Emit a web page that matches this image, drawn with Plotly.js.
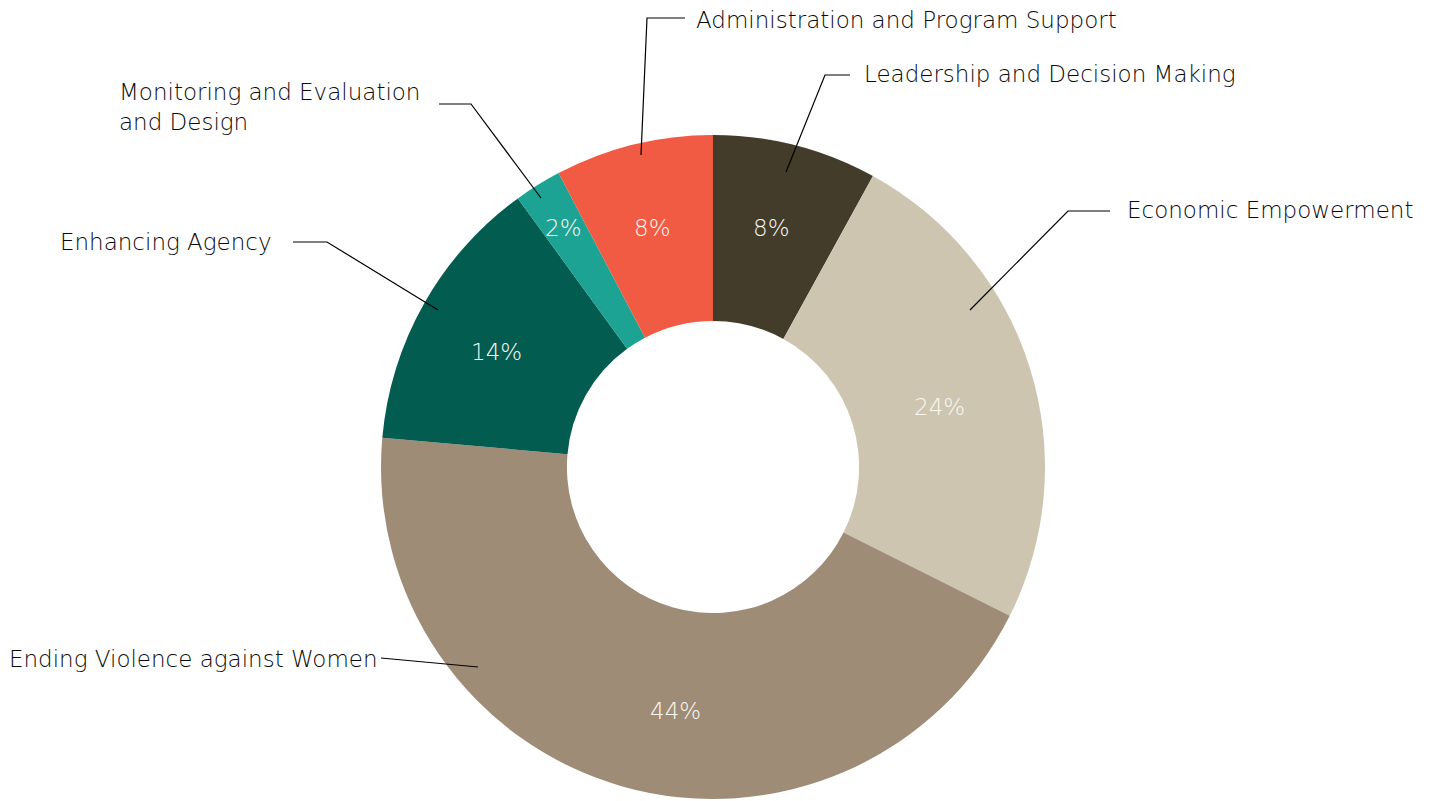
<!DOCTYPE html>
<html>
<head>
<meta charset="utf-8">
<script src="https://cdn.plot.ly/plotly-3.0.1.min.js"></script>
<style>html,body{margin:0;padding:0;background:#fff;}#chart{width:1434px;height:801px;}</style>
</head>
<body>
<div id="chart"></div>
<script>
// ---- data ----
const categories = [
  "Leadership and Decision Making",
  "Economic Empowerment",
  "Ending Violence against Women",
  "Enhancing Agency",
  "Monitoring and Evaluation and Design",
  "Administration and Program Support"
];
const shares = [8.0, 24.4, 44.0, 13.6, 2.3, 7.7];
const sliceColors = ["#443C2B", "#CDC5AF", "#9E8C77", "#025C50", "#1DA393", "#F15A43"];
const labelTexts = [
  "Leadership and Decision Making",
  "Economic Empowerment",
  "Ending Violence against Women",
  "Enhancing Agency",
  "Monitoring and Evaluation<br>and Design",
  "Administration and Program Support"
];

// ---- layout config (pixels) ----
const W = 1434, H = 801;
const CX = 713, CY = 467, R = 332, HOLE = 0.44;
const FONT = "'DejaVu Sans', sans-serif";
const FONT_WEIGHT = 200;
// leader lines: [start point in slice, elbow, end], label anchor
const leaders = [
  {pts: [[786,172],[825,75],[850,75]], lx: 862, ly: 74, anchor: "left"},
  {pts: [[970,310],[1068,211],[1110,211]], lx: 1125, ly: 210, anchor: "left"},
  {pts: [[478,667],[381,658]], lx: 380, ly: 659, anchor: "right"},
  {pts: [[438,310],[327,242],[293,242]], lx: 274, ly: 242, anchor: "right"},
  {pts: [[541,198],[471,104],[439,104]], lx: 117, ly: 107, anchor: "left"},
  {pts: [[641,155],[647,18],[685,18]], lx: 694, ly: 20, anchor: "left"}
];
// percent label placement (pixels)
const pctPos = [[771,228],[939,407],[675,711],[496,352],[563,228],[652,228]];

const px = x => x / W;
const py = y => 1 - y / H;

const trace = {
  type: "pie",
  labels: categories,
  values: shares,
  sort: false,
  direction: "clockwise",
  rotation: 0,
  hole: HOLE,
  marker: {colors: sliceColors, line: {width: 0}},
  textinfo: "none",
  hoverinfo: "label+percent",
  domain: {x: [px(CX - R), px(CX + R)], y: [py(CY + R), py(CY - R)]},
  showlegend: false
};

const total = shares.reduce((a, b) => a + b, 0);
const annotations = [];
shares.forEach((v, i) => {
  annotations.push({
    x: px(pctPos[i][0]), y: py(pctPos[i][1]), xref: "paper", yref: "paper",
    text: Math.round(v / total * 100) + "%",
    showarrow: false,
    font: {family: FONT, size: 23, weight: FONT_WEIGHT, color: "#FAF7F0"},
    xanchor: "center", yanchor: "middle"
  });
});

const shapes = [];
leaders.forEach((l, i) => {
  annotations.push({
    x: px(l.lx), y: py(l.ly), xref: "paper", yref: "paper",
    text: labelTexts[i], showarrow: false, align: "left",
    font: {family: FONT, size: 23, weight: FONT_WEIGHT, color: "#0A0A0A"},
    xanchor: l.anchor, yanchor: "middle"
  });
  const path = l.pts.map((p, k) => (k ? "L" : "M") + px(p[0]) + "," + py(p[1])).join(" ");
  shapes.push({type: "path", xref: "paper", yref: "paper", path: path,
    line: {color: "#000", width: 1.2}});
});

const layout = {
  width: W, height: H,
  margin: {l: 0, r: 0, t: 0, b: 0},
  paper_bgcolor: "#fff",
  annotations: annotations,
  shapes: shapes,
  font: {family: FONT}
};

Plotly.newPlot("chart", [trace], layout, {displayModeBar: false, staticPlot: true});
</script>
</body>
</html>
